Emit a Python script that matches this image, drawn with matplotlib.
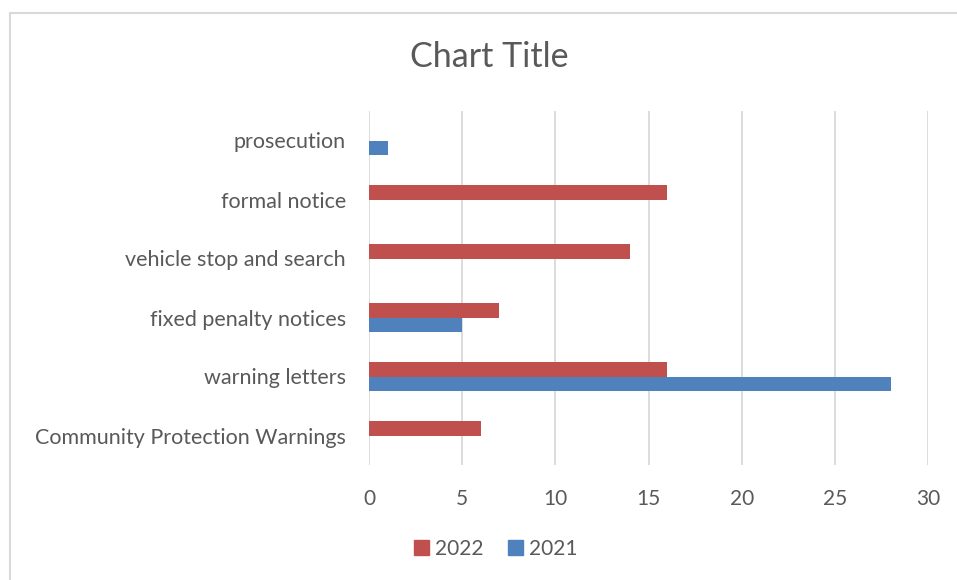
import matplotlib.pyplot as plt
from matplotlib.patches import Patch
from matplotlib.lines import Line2D
import numpy as np

# Data (bottom to top, as drawn)
categories = ['Community Protection Warnings', 'warning letters', 'fixed penalty notices',
              'vehicle stop and search', 'formal notice', 'prosecution']
values_2022 = [6, 16, 7, 14, 16, 0]
values_2021 = [0, 28, 5, 0, 0, 1]

red = '#C0504D'
blue = '#4F81BD'
text_col = '#595959'
grid_col = '#D9D9D9'

plt.rcParams['font.family'] = ['Lato', 'DejaVu Sans']

fig = plt.figure(figsize=(9.57, 5.8), dpi=100)
ax = fig.add_axes([369 / 957, 1 - 465 / 580, (928 - 369) / 957, (465 - 111) / 580])

y = np.arange(len(categories))
h = 0.254
ax.barh(y + h / 2, values_2022, height=h, color=red, linewidth=0, zorder=3)
ax.barh(y - h / 2, values_2021, height=h, color=blue, linewidth=0, zorder=3)

ax.set_xlim(0, 30)
ax.set_ylim(-0.5, len(categories) - 0.5)
ax.set_xticks(range(0, 31, 5))
ax.set_yticks(y)
ax.set_yticklabels(categories)
ax.grid(axis='x', color=grid_col, linewidth=1.3, zorder=0)
for s in ax.spines.values():
    s.set_visible(False)
ax.tick_params(axis='both', length=0, colors=text_col)
ax.tick_params(axis='y', pad=16.5, labelsize=15.5)
ax.tick_params(axis='x', pad=17, labelsize=15)

fig.text(489 / 957, 1 - 57 / 580, 'Chart Title', ha='center', va='center',
         fontsize=24.5, color=text_col)

handles = [Patch(color=red, label='2022'), Patch(color=blue, label='2021')]
fig.legend(handles=handles, loc='center', bbox_to_anchor=(496 / 957, 1 - 549 / 580),
           ncol=2, frameon=False, fontsize=15, labelcolor=text_col,
           handlelength=0.7, handleheight=0.7, handletextpad=0.3, columnspacing=1.2)

# chart area border (left and top edges visible)
fig.add_artist(Line2D([9.5 / 957, 9.5 / 957], [0, 1 - 13 / 580], color=grid_col, linewidth=1.5))
fig.add_artist(Line2D([9.5 / 957, 1], [1 - 13 / 580, 1 - 13 / 580], color=grid_col, linewidth=1.5))

fig.savefig('out.png', dpi=100)
